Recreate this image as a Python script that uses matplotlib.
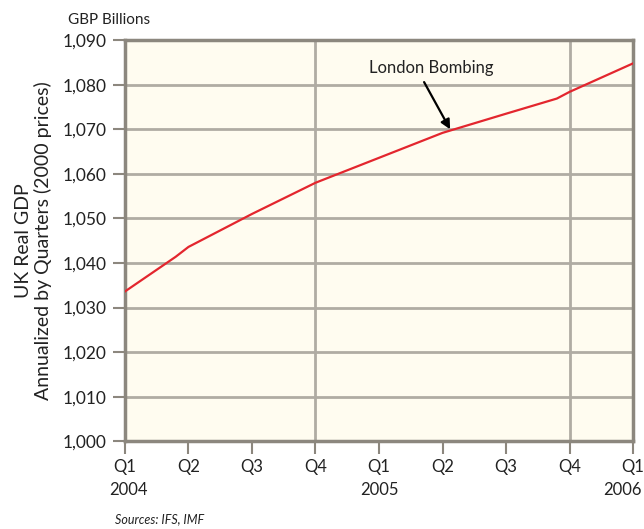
from matplotlib import pyplot as plt
from matplotlib import transforms

# UK real GDP, annualized by quarter (GBP billions, 2000 prices)
quarter_pos = [0, 0.8, 1, 2, 3, 4, 5, 6, 6.8, 7, 8]
gdp = [1033.6, 1041.4, 1043.6, 1051.0, 1058.0, 1063.6, 1069.2, 1073.5, 1076.9, 1078.4, 1084.8]

tick_labels = ["Q1", "Q2", "Q3", "Q4", "Q1", "Q2", "Q3", "Q4", "Q1"]
years = ["2004", "2005", "2006"]
year_pos = [0, 4, 8]
y_ticks = list(range(1000, 1091, 10))

plt.rcParams['font.family'] = ['Lato', 'DejaVu Sans']

fig = plt.figure(figsize=(6.44, 5.29), dpi=100)
ax = fig.add_axes([0.194, 0.166, 0.789, 0.758])
ax.set_facecolor('#fffcf0')

grid_col = '#b0aca3'
spine_col = '#8c877e'
text_col = '#222222'

for v in y_ticks[1:-1]:
    ax.axhline(v, color=grid_col, linewidth=2, zorder=1)
for q in [3, 7]:
    ax.axvline(q, color=grid_col, linewidth=2, zorder=1)

ax.plot(quarter_pos, gdp, color='#e3262e', linewidth=1.6, zorder=3)

ax.set_xlim(0, 8)
ax.set_ylim(1000, 1090)
ax.set_xticks(range(9))
ax.set_xticklabels(tick_labels, fontsize=12)
ax.set_yticks(y_ticks)
ax.set_yticklabels(["{:,}".format(v) for v in y_ticks], fontsize=12.5)

for s in ax.spines.values():
    s.set_color(spine_col)
    s.set_linewidth(2.5)
ax.tick_params(axis='both', color=spine_col, width=1.5, length=9, pad=4, labelcolor=text_col)

# year labels under the Q1 ticks
trans = transforms.blended_transform_factory(ax.transData, fig.transFigure)
for yr, p, ha, dx in zip(years, year_pos, ['left', 'center', 'right'], [-0.25, 0, 0.13]):
    ax.text(p + dx, 0.073, yr, transform=trans, ha=ha, va='center',
            fontsize=12, color=text_col)

ax.set_ylabel("UK Real GDP\nAnnualized by Quarters (2000 prices)", fontsize=14,
              color=text_col, linespacing=1.1, labelpad=8)

ax.annotate("", xy=(5.12, 1070), xytext=(4.71, 1080.6),
            arrowprops=dict(arrowstyle='-|>', color='black', lw=1.6,
                            mutation_scale=14, shrinkA=0, shrinkB=0))
ax.text(4.83, 1083.7, "London Bombing", ha='center', va='center',
        fontsize=12, color=text_col)

fig.text(0.105, 0.962, "GBP Billions", fontsize=11, color=text_col, va='center')
fig.text(0.178, 0.018, "Sources: IFS, IMF", fontsize=9, style='italic',
         color=text_col, va='center')

fig.savefig("out.png", dpi=100)
